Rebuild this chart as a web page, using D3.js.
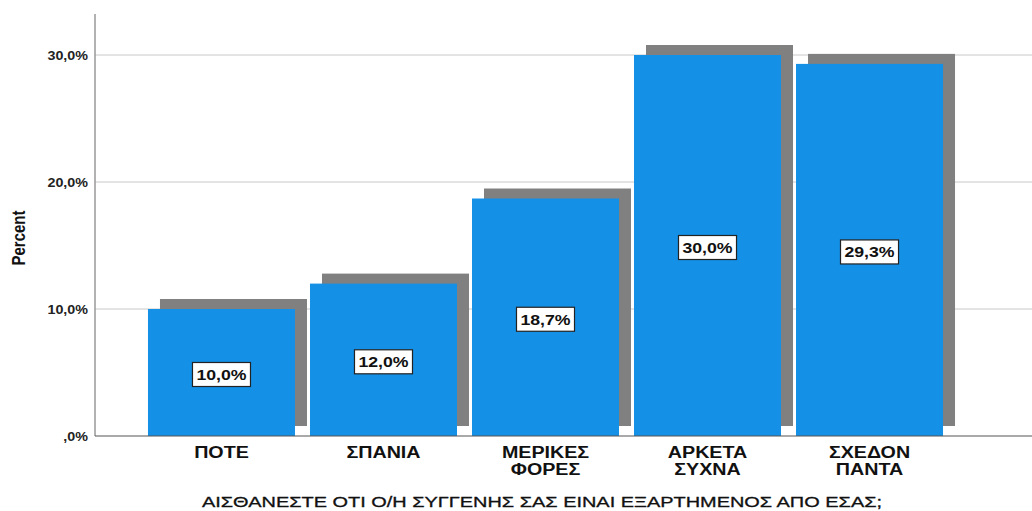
<html>
  <head>
    <meta charset="utf-8" />
    <script src="https://d3js.org/d3.v7.min.js"></script>
    <style>
      body { margin: 0; background: #fff; }
      svg { display: block; font-family: "Liberation Sans", Arial, sans-serif; }
    </style>
  </head>
  <body>
    <svg id="chart" width="1032" height="511"></svg>
    <script>
      // data
      var categories = ["ΠΟΤΕ", "ΣΠΑΝΙΑ", "ΜΕΡΙΚΕΣ ΦΟΡΕΣ", "ΑΡΚΕΤΑ ΣΥΧΝΑ", "ΣΧΕΔΟΝ ΠΑΝΤΑ"];
      var percents = [10.0, 12.0, 18.7, 30.0, 29.3];
      var yTicks = [0, 10, 20, 30];
      var xTitle = "ΑΙΣΘΑΝΕΣΤΕ ΟΤΙ Ο/Η ΣΥΓΓΕΝΗΣ ΣΑΣ ΕΙΝΑΙ ΕΞΑΡΤΗΜΕΝΟΣ ΑΠΟ ΕΣΑΣ;";
      var yTitle = "Percent";

      var data = categories.map((c, i) => ({ cat: c, val: percents[i] }));

      var svg = d3.select("#chart"),
        margin = { top: 14, left: 95, bottom: 75 },
        W = +svg.attr("width"),
        H = +svg.attr("height"),
        baseY = H - margin.bottom;

      var x = d3.scaleBand()
        .domain(categories)
        .range([margin.left, 996])
        .paddingInner(0.0926)
        .paddingOuter(0.327);

      var y = d3.scaleLinear().domain([0, 30]).range([baseY, 55]);

      var fmt = (v) => (v === 0 ? ",0%" : v.toFixed(1).replace(".", ",") + "%");
      var cx = (d) => x(d.cat) + x.bandwidth() / 2;

      // the original export is stretched sideways, so text gets a scaleX
      var place = (px, py, sx) => "translate(" + px + "," + py + ") scale(" + sx + ",1)";

      // gridlines
      svg.append("g")
        .selectAll("line")
        .data(yTicks.filter((t) => t > 0))
        .enter()
        .append("line")
        .attr("x1", margin.left)
        .attr("x2", W)
        .attr("y1", (d) => y(d))
        .attr("y2", (d) => y(d))
        .attr("stroke", "#c8c8c8")
        .attr("stroke-width", 1);

      // shadows
      var sdx = 12, sdy = -10;
      svg.append("g")
        .selectAll("rect")
        .data(data)
        .enter()
        .append("rect")
        .attr("x", (d) => x(d.cat) + sdx)
        .attr("y", (d) => y(d.val) + sdy)
        .attr("width", x.bandwidth())
        .attr("height", (d) => y(0) - y(d.val))
        .attr("fill", "#808080");

      // bars
      svg.append("g")
        .selectAll("rect")
        .data(data)
        .enter()
        .append("rect")
        .attr("x", (d) => x(d.cat))
        .attr("y", (d) => y(d.val))
        .attr("width", x.bandwidth())
        .attr("height", (d) => y(0) - y(d.val))
        .attr("fill", "#1490e6");

      // y axis line
      svg.append("line")
        .attr("x1", margin.left).attr("x2", margin.left)
        .attr("y1", margin.top).attr("y2", baseY)
        .attr("stroke", "#999").attr("stroke-width", 1.5);

      // baseline
      svg.append("line")
        .attr("x1", margin.left).attr("x2", W)
        .attr("y1", baseY).attr("y2", baseY)
        .attr("stroke", "#555").attr("stroke-width", 1.2);

      // y tick labels
      svg.append("g")
        .selectAll("text")
        .data(yTicks)
        .enter()
        .append("text")
        .attr("transform", (d) => place(88, y(d) + 4.5, 1.1))
        .attr("text-anchor", "end")
        .attr("font-size", 13)
        .attr("font-weight", "bold")
        .attr("fill", "#222")
        .text(fmt);

      // value labels in boxes
      var lab = svg.append("g")
        .selectAll("g")
        .data(data)
        .enter()
        .append("g")
        .attr("transform", (d) =>
          "translate(" + cx(d) + "," + ((y(d.val) + y(0)) / 2 + 2) + ")");

      lab.append("rect")
        .attr("x", -29).attr("y", -12)
        .attr("width", 58).attr("height", 24)
        .attr("fill", "#fff")
        .attr("stroke", "#222")
        .attr("stroke-width", 1.2);

      lab.append("text")
        .attr("transform", place(0, 5.5, 1.18))
        .attr("text-anchor", "middle")
        .attr("font-size", 15)
        .attr("font-weight", "bold")
        .attr("fill", "#111")
        .text((d) => fmt(d.val));

      // category labels, one line per word
      var cl = svg.append("g")
        .selectAll("g")
        .data(data)
        .enter()
        .append("g")
        .attr("transform", (d) => "translate(" + cx(d) + "," + (baseY + 22) + ")");

      cl.selectAll("text")
        .data((d) => d.cat.split(" "))
        .enter()
        .append("text")
        .attr("transform", (d, i) => place(0, i * 17, 1.23))
        .attr("text-anchor", "middle")
        .attr("font-size", 16)
        .attr("font-weight", "bold")
        .attr("fill", "#111")
        .text((d) => d);

      // axis titles
      svg.append("text")
        .attr("transform", place(542, 507, 1.33))
        .attr("text-anchor", "middle")
        .attr("font-size", 15)
        .attr("fill", "#111")
        .attr("stroke", "#111")
        .attr("stroke-width", 0.3)
        .text(xTitle);

      svg.append("text")
        .attr("transform", "translate(25,238) rotate(-90) scale(1,1.25)")
        .attr("text-anchor", "middle")
        .attr("font-size", 15)
        .attr("font-weight", "bold")
        .attr("fill", "#111")
        .text(yTitle);
    </script>
  </body>
</html>
